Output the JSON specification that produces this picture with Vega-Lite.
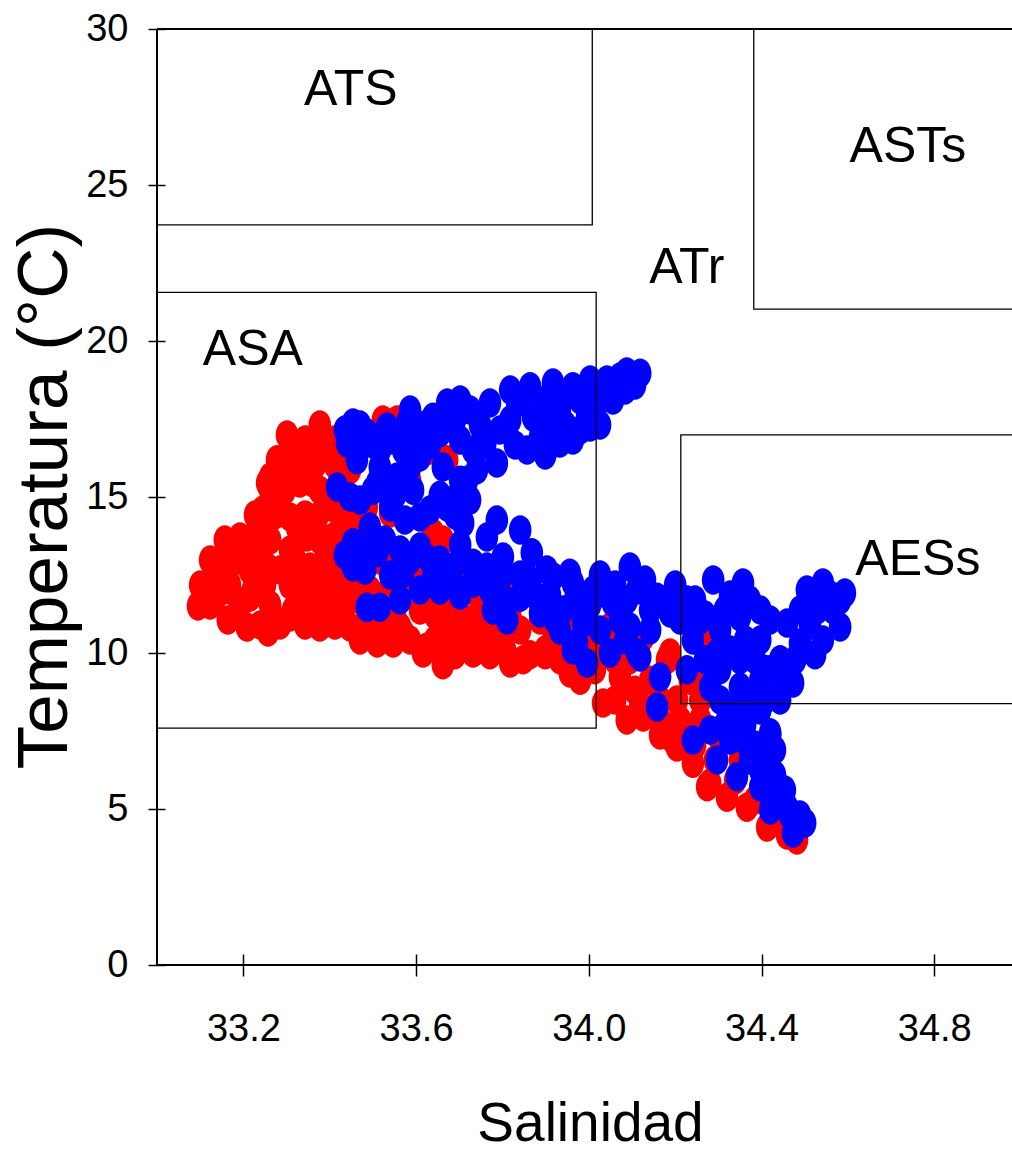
{
  "$schema": "https://vega.github.io/schema/vega-lite/v6.json",
  "autosize": {"type": "none"},
  "padding": {"left": 157, "top": 29, "right": 0, "bottom": 188},
  "width": 855,
  "height": 936,
  "background": "white",
  "config": {"view": {"stroke": null}},
  "datasets": {
    "puntos": [
      {"sal":33.095,"temp":11.51,"grupo":"R"},{"sal":33.139,"temp":11.86,"grupo":"R"},{"sal":33.162,"temp":13.04,"grupo":"R"},{"sal":33.192,"temp":13.72,"grupo":"R"},{"sal":33.164,"temp":11.06,"grupo":"R"},{"sal":33.208,"temp":10.83,"grupo":"R"},{"sal":33.257,"temp":10.67,"grupo":"R"},{"sal":33.215,"temp":11.79,"grupo":"R"},{"sal":33.255,"temp":12.76,"grupo":"R"},{"sal":33.245,"temp":14.58,"grupo":"R"},
      {"sal":33.262,"temp":15.64,"grupo":"R"},{"sal":33.301,"temp":16.99,"grupo":"R"},{"sal":33.377,"temp":17.31,"grupo":"R"},{"sal":33.338,"temp":16.41,"grupo":"R"},{"sal":33.331,"temp":15.45,"grupo":"R"},{"sal":33.278,"temp":16.19,"grupo":"R"},{"sal":33.324,"temp":14.04,"grupo":"R"},{"sal":33.371,"temp":14.36,"grupo":"R"},{"sal":33.308,"temp":13.30,"grupo":"R"},{"sal":33.354,"temp":12.76,"grupo":"R"},
      {"sal":33.315,"temp":11.38,"grupo":"R"},{"sal":33.384,"temp":11.60,"grupo":"R"},{"sal":33.377,"temp":10.83,"grupo":"R"},{"sal":33.417,"temp":12.44,"grupo":"R"},{"sal":33.417,"temp":14.90,"grupo":"R"},{"sal":33.401,"temp":16.51,"grupo":"R"},{"sal":33.447,"temp":10.83,"grupo":"R"},{"sal":33.486,"temp":11.06,"grupo":"R"},{"sal":33.523,"temp":10.64,"grupo":"R"},{"sal":33.570,"temp":10.64,"grupo":"R"},
      {"sal":33.625,"temp":10.19,"grupo":"R"},{"sal":33.662,"temp":9.87,"grupo":"R"},{"sal":33.523,"temp":17.47,"grupo":"R"},{"sal":33.556,"temp":17.47,"grupo":"R"},{"sal":33.639,"temp":13.85,"grupo":"R"},{"sal":33.540,"temp":14.49,"grupo":"R"},{"sal":33.255,"temp":15.45,"grupo":"R"},{"sal":33.139,"temp":12.44,"grupo":"R"},{"sal":33.232,"temp":13.30,"grupo":"R"},{"sal":33.308,"temp":14.36,"grupo":"R"},
      {"sal":33.347,"temp":13.72,"grupo":"R"},{"sal":33.361,"temp":15.45,"grupo":"R"},{"sal":33.377,"temp":16.51,"grupo":"R"},{"sal":33.394,"temp":14.68,"grupo":"R"},{"sal":33.285,"temp":12.66,"grupo":"R"},{"sal":33.222,"temp":12.02,"grupo":"R"},{"sal":33.377,"temp":12.24,"grupo":"R"},{"sal":33.408,"temp":13.72,"grupo":"R"},{"sal":33.486,"temp":14.68,"grupo":"R"},{"sal":33.662,"temp":13.62,"grupo":"R"},
      {"sal":33.470,"temp":12.44,"grupo":"R"},{"sal":33.672,"temp":16.19,"grupo":"R"},{"sal":33.593,"temp":12.44,"grupo":"R"},{"sal":33.533,"temp":11.92,"grupo":"R"},{"sal":33.417,"temp":11.79,"grupo":"R"},{"sal":33.308,"temp":11.15,"grupo":"R"},{"sal":33.354,"temp":11.06,"grupo":"R"},{"sal":33.510,"temp":10.32,"grupo":"R"},{"sal":33.547,"temp":10.32,"grupo":"R"},{"sal":33.616,"temp":10.00,"grupo":"R"},
      {"sal":33.662,"temp":9.62,"grupo":"R"},{"sal":33.732,"temp":10.00,"grupo":"R"},{"sal":33.818,"temp":9.68,"grupo":"R"},{"sal":33.563,"temp":10.83,"grupo":"R"},{"sal":33.672,"temp":10.64,"grupo":"R"},{"sal":33.748,"temp":10.64,"grupo":"R"},{"sal":33.848,"temp":9.78,"grupo":"R"},{"sal":33.956,"temp":9.36,"grupo":"R"},{"sal":34.033,"temp":8.40,"grupo":"R"},{"sal":34.088,"temp":7.85,"grupo":"R"},
      {"sal":34.135,"temp":8.17,"grupo":"R"},{"sal":34.072,"temp":9.23,"grupo":"R"},{"sal":34.195,"temp":7.21,"grupo":"R"},{"sal":34.241,"temp":6.47,"grupo":"R"},{"sal":34.274,"temp":5.71,"grupo":"R"},{"sal":34.320,"temp":5.38,"grupo":"R"},{"sal":34.366,"temp":5.06,"grupo":"R"},{"sal":34.413,"temp":4.42,"grupo":"R"},{"sal":34.459,"temp":4.17,"grupo":"R"},{"sal":34.482,"temp":4.01,"grupo":"R"},
      {"sal":34.204,"temp":8.49,"grupo":"R"},{"sal":34.241,"temp":7.44,"grupo":"R"},{"sal":34.181,"temp":9.78,"grupo":"R"},{"sal":34.274,"temp":10.51,"grupo":"R"},{"sal":33.996,"temp":11.06,"grupo":"R"},{"sal":33.917,"temp":10.42,"grupo":"R"},{"sal":34.126,"temp":7.95,"grupo":"R"},{"sal":34.204,"temp":6.99,"grupo":"R"},{"sal":34.281,"temp":5.83,"grupo":"R"},{"sal":33.950,"temp":10.83,"grupo":"R"},
      {"sal":34.049,"temp":10.83,"grupo":"R"},{"sal":34.126,"temp":10.51,"grupo":"R"},{"sal":34.188,"temp":10.00,"grupo":"R"},{"sal":34.258,"temp":10.83,"grupo":"R"},{"sal":33.987,"temp":11.60,"grupo":"R"},{"sal":33.447,"temp":15.87,"grupo":"R"},{"sal":33.470,"temp":13.62,"grupo":"R"},{"sal":33.516,"temp":12.98,"grupo":"R"},{"sal":33.563,"temp":12.02,"grupo":"R"},{"sal":33.609,"temp":11.38,"grupo":"R"},
      {"sal":33.679,"temp":11.38,"grupo":"R"},{"sal":33.725,"temp":11.06,"grupo":"R"},{"sal":33.794,"temp":10.42,"grupo":"R"},{"sal":33.841,"temp":10.74,"grupo":"R"},{"sal":33.887,"temp":11.06,"grupo":"R"},{"sal":33.702,"temp":12.34,"grupo":"R"},{"sal":33.748,"temp":11.70,"grupo":"R"},{"sal":33.609,"temp":12.98,"grupo":"R"},{"sal":33.470,"temp":11.70,"grupo":"R"},{"sal":33.632,"temp":16.51,"grupo":"R"},
      {"sal":33.586,"temp":15.54,"grupo":"R"},{"sal":33.215,"temp":12.66,"grupo":"R"},{"sal":33.285,"temp":14.90,"grupo":"R"},{"sal":33.239,"temp":13.94,"grupo":"R"},{"sal":34.026,"temp":10.10,"grupo":"R"},{"sal":34.095,"temp":9.78,"grupo":"R"},{"sal":34.142,"temp":9.13,"grupo":"R"},{"sal":34.165,"temp":8.49,"grupo":"R"},{"sal":34.258,"temp":8.49,"grupo":"R"},{"sal":34.304,"temp":7.21,"grupo":"R"},
      {"sal":34.350,"temp":6.57,"grupo":"R"},{"sal":34.397,"temp":5.61,"grupo":"R"},{"sal":34.443,"temp":4.97,"grupo":"R"},{"sal":34.234,"temp":9.13,"grupo":"R"},{"sal":33.933,"temp":9.78,"grupo":"R"},{"sal":33.169,"temp":12.02,"grupo":"R"},{"sal":33.447,"temp":11.70,"grupo":"R"},{"sal":33.806,"temp":10.10,"grupo":"R"},
      {"sal":33.308,"temp":16.83,"grupo":"R"},{"sal":33.343,"temp":16.83,"grupo":"R"},{"sal":33.412,"temp":16.83,"grupo":"R"},{"sal":33.296,"temp":16.03,"grupo":"R"},{"sal":33.331,"temp":16.03,"grupo":"R"},{"sal":33.366,"temp":16.03,"grupo":"R"},{"sal":33.412,"temp":16.03,"grupo":"R"},{"sal":33.262,"temp":15.22,"grupo":"R"},{"sal":33.296,"temp":15.22,"grupo":"R"},{"sal":33.377,"temp":15.22,"grupo":"R"},
      {"sal":33.424,"temp":15.22,"grupo":"R"},{"sal":33.227,"temp":14.42,"grupo":"R"},{"sal":33.273,"temp":14.42,"grupo":"R"},{"sal":33.343,"temp":14.42,"grupo":"R"},{"sal":33.424,"temp":14.42,"grupo":"R"},{"sal":33.459,"temp":14.42,"grupo":"R"},{"sal":33.157,"temp":13.62,"grupo":"R"},{"sal":33.215,"temp":13.62,"grupo":"R"},{"sal":33.262,"temp":13.62,"grupo":"R"},{"sal":33.377,"temp":13.62,"grupo":"R"},
      {"sal":33.435,"temp":13.62,"grupo":"R"},{"sal":33.123,"temp":12.98,"grupo":"R"},{"sal":33.192,"temp":12.98,"grupo":"R"},{"sal":33.320,"temp":12.98,"grupo":"R"},{"sal":33.389,"temp":12.98,"grupo":"R"},{"sal":33.435,"temp":12.98,"grupo":"R"},{"sal":33.100,"temp":12.18,"grupo":"R"},{"sal":33.169,"temp":12.18,"grupo":"R"},{"sal":33.250,"temp":12.18,"grupo":"R"},{"sal":33.308,"temp":12.18,"grupo":"R"},
      {"sal":33.343,"temp":12.18,"grupo":"R"},{"sal":33.424,"temp":12.18,"grupo":"R"},{"sal":33.123,"temp":11.54,"grupo":"R"},{"sal":33.192,"temp":11.54,"grupo":"R"},{"sal":33.262,"temp":11.54,"grupo":"R"},{"sal":33.343,"temp":11.54,"grupo":"R"},{"sal":33.424,"temp":11.54,"grupo":"R"},{"sal":33.239,"temp":10.90,"grupo":"R"},{"sal":33.285,"temp":10.90,"grupo":"R"},{"sal":33.343,"temp":10.90,"grupo":"R"},
      {"sal":33.412,"temp":10.90,"grupo":"R"},{"sal":33.482,"temp":10.90,"grupo":"R"},{"sal":33.540,"temp":12.98,"grupo":"R"},{"sal":33.586,"temp":12.98,"grupo":"R"},{"sal":33.632,"temp":12.98,"grupo":"R"},{"sal":33.493,"temp":12.02,"grupo":"R"},{"sal":33.632,"temp":12.02,"grupo":"R"},{"sal":33.667,"temp":12.02,"grupo":"R"},{"sal":33.794,"temp":12.02,"grupo":"R"},{"sal":33.841,"temp":12.02,"grupo":"R"},
      {"sal":33.516,"temp":11.22,"grupo":"R"},{"sal":33.551,"temp":11.22,"grupo":"R"},{"sal":33.644,"temp":11.22,"grupo":"R"},{"sal":33.690,"temp":11.22,"grupo":"R"},{"sal":33.771,"temp":11.22,"grupo":"R"},{"sal":33.818,"temp":11.22,"grupo":"R"},{"sal":33.470,"temp":10.42,"grupo":"R"},{"sal":33.586,"temp":10.42,"grupo":"R"},{"sal":33.644,"temp":10.42,"grupo":"R"},{"sal":33.702,"temp":10.42,"grupo":"R"},
      {"sal":33.771,"temp":10.42,"grupo":"R"},{"sal":33.690,"temp":9.94,"grupo":"R"},{"sal":33.771,"temp":9.94,"grupo":"R"},{"sal":33.864,"temp":9.94,"grupo":"R"},{"sal":33.899,"temp":9.94,"grupo":"R"},{"sal":33.899,"temp":10.10,"grupo":"R"},{"sal":33.945,"temp":10.26,"grupo":"R"},{"sal":34.003,"temp":10.26,"grupo":"R"},{"sal":33.980,"temp":9.13,"grupo":"R"},{"sal":34.014,"temp":9.46,"grupo":"R"},
      {"sal":34.061,"temp":9.78,"grupo":"R"},{"sal":34.061,"temp":8.49,"grupo":"R"},{"sal":34.107,"temp":8.81,"grupo":"R"},{"sal":34.119,"temp":8.33,"grupo":"R"},{"sal":34.165,"temp":7.85,"grupo":"R"},{"sal":34.165,"temp":7.37,"grupo":"R"},{"sal":34.211,"temp":7.85,"grupo":"R"},{"sal":34.258,"temp":7.85,"grupo":"R"},{"sal":34.269,"temp":9.13,"grupo":"R"},{"sal":34.292,"temp":6.57,"grupo":"R"},
      {"sal":34.339,"temp":5.93,"grupo":"R"},{"sal":34.385,"temp":5.29,"grupo":"R"},{"sal":34.431,"temp":4.65,"grupo":"R"},{"sal":34.246,"temp":7.05,"grupo":"R"},
      {"sal":33.454,"temp":17.37,"grupo":"B"},{"sal":33.440,"temp":16.73,"grupo":"B"},{"sal":33.477,"temp":16.92,"grupo":"B"},{"sal":33.533,"temp":17.24,"grupo":"B"},{"sal":33.579,"temp":17.37,"grupo":"B"},{"sal":33.516,"temp":16.51,"grupo":"B"},{"sal":33.570,"temp":16.51,"grupo":"B"},{"sal":33.609,"temp":16.28,"grupo":"B"},{"sal":33.639,"temp":17.56,"grupo":"B"},{"sal":33.672,"temp":18.01,"grupo":"B"},
      {"sal":33.725,"temp":17.79,"grupo":"B"},{"sal":33.771,"temp":18.01,"grupo":"B"},{"sal":33.794,"temp":17.15,"grupo":"B"},{"sal":33.732,"temp":16.51,"grupo":"B"},{"sal":33.787,"temp":16.09,"grupo":"B"},{"sal":33.662,"temp":15.96,"grupo":"B"},{"sal":33.848,"temp":18.11,"grupo":"B"},{"sal":33.864,"temp":18.53,"grupo":"B"},{"sal":33.917,"temp":18.65,"grupo":"B"},{"sal":33.963,"temp":18.53,"grupo":"B"},
      {"sal":33.857,"temp":16.51,"grupo":"B"},{"sal":33.917,"temp":16.92,"grupo":"B"},{"sal":33.963,"temp":16.83,"grupo":"B"},{"sal":33.996,"temp":17.56,"grupo":"B"},{"sal":34.019,"temp":18.53,"grupo":"B"},{"sal":34.056,"temp":18.11,"grupo":"B"},{"sal":34.072,"temp":18.85,"grupo":"B"},{"sal":34.119,"temp":18.97,"grupo":"B"},{"sal":33.871,"temp":17.56,"grupo":"B"},{"sal":33.933,"temp":17.79,"grupo":"B"},
      {"sal":34.003,"temp":18.75,"grupo":"B"},{"sal":34.042,"temp":18.75,"grupo":"B"},{"sal":34.088,"temp":19.01,"grupo":"B"},{"sal":34.003,"temp":17.24,"grupo":"B"},{"sal":33.933,"temp":16.73,"grupo":"B"},{"sal":33.887,"temp":16.92,"grupo":"B"},{"sal":33.834,"temp":18.01,"grupo":"B"},{"sal":33.609,"temp":16.73,"grupo":"B"},{"sal":33.493,"temp":16.73,"grupo":"B"},{"sal":33.516,"temp":15.96,"grupo":"B"},
      {"sal":33.556,"temp":15.64,"grupo":"B"},{"sal":33.463,"temp":16.19,"grupo":"B"},{"sal":33.486,"temp":17.05,"grupo":"B"},{"sal":33.510,"temp":15.45,"grupo":"B"},{"sal":33.586,"temp":15.96,"grupo":"B"},{"sal":33.655,"temp":17.05,"grupo":"B"},{"sal":33.417,"temp":15.32,"grupo":"B"},{"sal":33.447,"temp":15.00,"grupo":"B"},{"sal":33.500,"temp":15.22,"grupo":"B"},{"sal":33.540,"temp":14.68,"grupo":"B"},
      {"sal":33.593,"temp":15.22,"grupo":"B"},{"sal":33.609,"temp":14.36,"grupo":"B"},{"sal":33.672,"temp":14.68,"grupo":"B"},{"sal":33.718,"temp":15.54,"grupo":"B"},{"sal":33.741,"temp":15.87,"grupo":"B"},{"sal":33.686,"temp":14.90,"grupo":"B"},{"sal":33.709,"temp":14.17,"grupo":"B"},{"sal":33.787,"temp":14.26,"grupo":"B"},{"sal":33.764,"temp":13.72,"grupo":"B"},{"sal":33.841,"temp":13.94,"grupo":"B"},
      {"sal":33.868,"temp":13.21,"grupo":"B"},{"sal":33.454,"temp":13.53,"grupo":"B"},{"sal":33.454,"temp":12.76,"grupo":"B"},{"sal":33.493,"temp":14.04,"grupo":"B"},{"sal":33.510,"temp":13.21,"grupo":"B"},{"sal":33.563,"temp":13.30,"grupo":"B"},{"sal":33.609,"temp":13.40,"grupo":"B"},{"sal":33.570,"temp":12.56,"grupo":"B"},{"sal":33.639,"temp":12.44,"grupo":"B"},{"sal":33.486,"temp":11.47,"grupo":"B"},
      {"sal":33.516,"temp":11.47,"grupo":"B"},{"sal":33.563,"temp":11.70,"grupo":"B"},{"sal":33.609,"temp":12.02,"grupo":"B"},{"sal":33.686,"temp":12.24,"grupo":"B"},{"sal":33.732,"temp":12.88,"grupo":"B"},{"sal":33.801,"temp":13.08,"grupo":"B"},{"sal":33.771,"temp":12.02,"grupo":"B"},{"sal":33.764,"temp":12.76,"grupo":"B"},{"sal":33.732,"temp":12.24,"grupo":"B"},{"sal":33.778,"temp":11.38,"grupo":"B"},
      {"sal":33.811,"temp":11.06,"grupo":"B"},{"sal":33.841,"temp":11.79,"grupo":"B"},{"sal":33.887,"temp":11.28,"grupo":"B"},{"sal":33.917,"temp":12.44,"grupo":"B"},{"sal":33.963,"temp":12.24,"grupo":"B"},{"sal":33.940,"temp":11.38,"grupo":"B"},{"sal":33.987,"temp":10.96,"grupo":"B"},{"sal":34.010,"temp":12.02,"grupo":"B"},{"sal":34.056,"temp":11.60,"grupo":"B"},{"sal":34.095,"temp":12.76,"grupo":"B"},
      {"sal":34.112,"temp":12.02,"grupo":"B"},{"sal":33.973,"temp":10.32,"grupo":"B"},{"sal":34.049,"temp":10.00,"grupo":"B"},{"sal":34.112,"temp":10.00,"grupo":"B"},{"sal":33.903,"temp":12.66,"grupo":"B"},{"sal":33.956,"temp":12.56,"grupo":"B"},{"sal":34.158,"temp":11.79,"grupo":"B"},{"sal":34.227,"temp":11.70,"grupo":"B"},{"sal":34.288,"temp":12.34,"grupo":"B"},{"sal":34.357,"temp":12.24,"grupo":"B"},
      {"sal":34.505,"temp":12.02,"grupo":"B"},{"sal":34.542,"temp":12.24,"grupo":"B"},{"sal":34.593,"temp":11.92,"grupo":"B"},{"sal":34.033,"temp":11.92,"grupo":"B"},{"sal":34.088,"temp":11.70,"grupo":"B"},{"sal":33.963,"temp":10.10,"grupo":"B"},{"sal":33.996,"temp":9.68,"grupo":"B"},{"sal":34.119,"temp":9.87,"grupo":"B"},{"sal":34.165,"temp":9.23,"grupo":"B"},{"sal":34.158,"temp":8.27,"grupo":"B"},
      {"sal":34.095,"temp":10.83,"grupo":"B"},{"sal":34.188,"temp":11.28,"grupo":"B"},{"sal":34.241,"temp":10.42,"grupo":"B"},{"sal":34.227,"temp":9.46,"grupo":"B"},{"sal":34.281,"temp":8.91,"grupo":"B"},{"sal":34.297,"temp":10.00,"grupo":"B"},{"sal":34.350,"temp":11.15,"grupo":"B"},{"sal":34.350,"temp":9.78,"grupo":"B"},{"sal":34.397,"temp":10.42,"grupo":"B"},{"sal":34.459,"temp":10.96,"grupo":"B"},
      {"sal":34.489,"temp":10.32,"grupo":"B"},{"sal":34.473,"temp":9.04,"grupo":"B"},{"sal":34.542,"temp":10.42,"grupo":"B"},{"sal":34.582,"temp":10.83,"grupo":"B"},{"sal":34.582,"temp":11.70,"grupo":"B"},{"sal":34.413,"temp":9.46,"grupo":"B"},{"sal":34.350,"temp":8.91,"grupo":"B"},{"sal":34.241,"temp":7.21,"grupo":"B"},{"sal":34.281,"temp":7.53,"grupo":"B"},{"sal":34.297,"temp":6.57,"grupo":"B"},
      {"sal":34.334,"temp":8.17,"grupo":"B"},{"sal":34.397,"temp":8.17,"grupo":"B"},{"sal":34.420,"temp":7.44,"grupo":"B"},{"sal":34.366,"temp":7.12,"grupo":"B"},{"sal":34.413,"temp":6.57,"grupo":"B"},{"sal":34.343,"temp":6.03,"grupo":"B"},{"sal":34.397,"temp":5.71,"grupo":"B"},{"sal":34.436,"temp":5.61,"grupo":"B"},{"sal":34.459,"temp":5.06,"grupo":"B"},{"sal":34.501,"temp":4.55,"grupo":"B"},
      {"sal":34.473,"temp":4.23,"grupo":"B"},{"sal":34.373,"temp":8.49,"grupo":"B"},{"sal":34.304,"temp":8.49,"grupo":"B"},{"sal":34.443,"temp":9.78,"grupo":"B"},{"sal":34.397,"temp":9.13,"grupo":"B"},{"sal":34.258,"temp":11.06,"grupo":"B"},{"sal":34.304,"temp":10.74,"grupo":"B"},{"sal":34.142,"temp":10.74,"grupo":"B"},{"sal":34.211,"temp":11.06,"grupo":"B"},{"sal":34.529,"temp":11.38,"grupo":"B"},
      {"sal":34.566,"temp":11.38,"grupo":"B"},{"sal":34.373,"temp":6.57,"grupo":"B"},{"sal":34.327,"temp":7.21,"grupo":"B"},{"sal":34.420,"temp":4.97,"grupo":"B"},{"sal":33.655,"temp":12.98,"grupo":"B"},{"sal":33.702,"temp":13.46,"grupo":"B"},{"sal":33.794,"temp":12.34,"grupo":"B"},{"sal":33.864,"temp":12.34,"grupo":"B"},
      {"sal":33.435,"temp":17.15,"grupo":"B"},{"sal":33.470,"temp":17.31,"grupo":"B"},{"sal":33.505,"temp":16.67,"grupo":"B"},{"sal":33.540,"temp":16.83,"grupo":"B"},{"sal":33.563,"temp":16.99,"grupo":"B"},{"sal":33.598,"temp":16.99,"grupo":"B"},{"sal":33.621,"temp":17.31,"grupo":"B"},{"sal":33.632,"temp":16.67,"grupo":"B"},{"sal":33.690,"temp":17.47,"grupo":"B"},{"sal":33.702,"temp":16.83,"grupo":"B"},
      {"sal":33.748,"temp":17.31,"grupo":"B"},{"sal":33.760,"temp":16.67,"grupo":"B"},{"sal":33.818,"temp":17.47,"grupo":"B"},{"sal":33.829,"temp":16.67,"grupo":"B"},{"sal":33.899,"temp":18.11,"grupo":"B"},{"sal":33.899,"temp":17.31,"grupo":"B"},{"sal":33.899,"temp":16.35,"grupo":"B"},{"sal":33.945,"temp":18.27,"grupo":"B"},{"sal":33.945,"temp":17.31,"grupo":"B"},{"sal":33.980,"temp":18.11,"grupo":"B"},
      {"sal":33.980,"temp":17.15,"grupo":"B"},{"sal":34.026,"temp":18.11,"grupo":"B"},{"sal":34.026,"temp":17.31,"grupo":"B"},{"sal":34.084,"temp":18.43,"grupo":"B"},{"sal":34.107,"temp":18.59,"grupo":"B"},{"sal":33.586,"temp":17.79,"grupo":"B"},{"sal":33.702,"temp":18.11,"grupo":"B"},{"sal":33.818,"temp":18.43,"grupo":"B"},
      {"sal":33.470,"temp":14.90,"grupo":"B"},{"sal":33.551,"temp":15.06,"grupo":"B"},{"sal":33.574,"temp":14.26,"grupo":"B"},{"sal":33.632,"temp":14.58,"grupo":"B"},{"sal":33.655,"temp":15.06,"grupo":"B"},{"sal":33.690,"temp":14.42,"grupo":"B"},{"sal":33.725,"temp":14.90,"grupo":"B"},{"sal":33.702,"temp":15.54,"grupo":"B"},
      {"sal":33.435,"temp":13.14,"grupo":"B"},{"sal":33.482,"temp":13.46,"grupo":"B"},{"sal":33.528,"temp":13.62,"grupo":"B"},{"sal":33.482,"temp":12.66,"grupo":"B"},{"sal":33.540,"temp":12.50,"grupo":"B"},{"sal":33.586,"temp":12.98,"grupo":"B"},{"sal":33.632,"temp":12.98,"grupo":"B"},{"sal":33.667,"temp":12.66,"grupo":"B"},{"sal":33.702,"temp":12.98,"grupo":"B"},{"sal":33.655,"temp":12.02,"grupo":"B"},
      {"sal":33.702,"temp":11.86,"grupo":"B"},{"sal":33.748,"temp":12.50,"grupo":"B"},{"sal":33.794,"temp":12.82,"grupo":"B"},{"sal":33.806,"temp":11.70,"grupo":"B"},{"sal":33.841,"temp":12.50,"grupo":"B"},{"sal":33.875,"temp":11.86,"grupo":"B"},{"sal":33.910,"temp":11.86,"grupo":"B"},{"sal":33.922,"temp":11.06,"grupo":"B"},{"sal":33.968,"temp":11.70,"grupo":"B"},{"sal":34.003,"temp":11.54,"grupo":"B"},
      {"sal":34.026,"temp":12.50,"grupo":"B"},{"sal":34.061,"temp":12.18,"grupo":"B"},{"sal":34.072,"temp":11.06,"grupo":"B"},{"sal":34.026,"temp":10.74,"grupo":"B"},{"sal":33.933,"temp":10.74,"grupo":"B"},{"sal":34.084,"temp":10.42,"grupo":"B"},{"sal":34.142,"temp":11.38,"grupo":"B"},{"sal":34.176,"temp":11.70,"grupo":"B"},{"sal":34.130,"temp":12.34,"grupo":"B"},{"sal":34.200,"temp":12.18,"grupo":"B"},
      {"sal":34.246,"temp":11.70,"grupo":"B"},{"sal":34.269,"temp":11.22,"grupo":"B"},{"sal":34.315,"temp":11.38,"grupo":"B"},{"sal":34.327,"temp":11.86,"grupo":"B"},{"sal":34.373,"temp":11.70,"grupo":"B"},{"sal":34.397,"temp":11.38,"grupo":"B"},{"sal":34.420,"temp":11.06,"grupo":"B"},{"sal":34.362,"temp":10.42,"grupo":"B"},{"sal":34.327,"temp":10.10,"grupo":"B"},{"sal":34.269,"temp":9.78,"grupo":"B"},
      {"sal":34.304,"temp":9.46,"grupo":"B"},{"sal":34.385,"temp":9.78,"grupo":"B"},{"sal":34.408,"temp":8.49,"grupo":"B"},{"sal":34.443,"temp":8.49,"grupo":"B"},{"sal":34.443,"temp":9.13,"grupo":"B"},{"sal":34.478,"temp":9.78,"grupo":"B"},{"sal":34.512,"temp":10.90,"grupo":"B"},{"sal":34.559,"temp":11.86,"grupo":"B"},{"sal":34.489,"temp":11.38,"grupo":"B"},{"sal":34.524,"temp":9.94,"grupo":"B"},
      {"sal":34.315,"temp":7.69,"grupo":"B"},{"sal":34.362,"temp":7.69,"grupo":"B"},{"sal":34.385,"temp":7.05,"grupo":"B"},{"sal":34.397,"temp":6.25,"grupo":"B"},{"sal":34.431,"temp":6.09,"grupo":"B"},{"sal":34.454,"temp":5.61,"grupo":"B"},{"sal":34.420,"temp":5.45,"grupo":"B"},{"sal":34.466,"temp":4.81,"grupo":"B"},{"sal":34.489,"temp":4.81,"grupo":"B"},{"sal":34.443,"temp":5.13,"grupo":"B"},
      {"sal":34.431,"temp":6.89,"grupo":"B"},{"sal":34.420,"temp":7.37,"grupo":"B"}
    ],
    "cajas": [
      {"nombre":"ATS","s1":33.0,"s2":34.008,"t1":23.72,"t2":30},
      {"nombre":"ASTs","s1":34.382,"s2":35.0,"t1":21.02,"t2":30},
      {"nombre":"ASA","s1":33.0,"s2":34.017,"t1":7.59,"t2":21.56},
      {"nombre":"AESs","s1":34.213,"s2":35.0,"t1":8.38,"t2":16.99}
    ],
    "marco": [
      {"s1":33.0,"s2":34.98,"t1":0,"t2":0},
      {"s1":33.0,"s2":33.0,"t1":0,"t2":30},
      {"s1":33.0,"s2":34.98,"t1":30,"t2":30}
    ],
    "etiquetas": [
      {"texto":"ATS","sal":33.449,"temp":27.56},
      {"texto":"ASTs","sal":34.739,"temp":25.74},
      {"texto":"ATr","sal":34.227,"temp":21.86},
      {"texto":"ASA","sal":33.222,"temp":19.23},
      {"texto":"AESs","sal":34.762,"temp":12.5}
    ]
  },
  "layer": [
    {
      "data": {"name": "puntos"},
      "mark": {
        "type": "point",
        "shape": "M0,-1C0.4236,-1,0.767,-0.5523,0.767,0C0.767,0.5523,0.4236,1,0,1C-0.4236,1,-0.767,0.5523,-0.767,0C-0.767,-0.5523,-0.4236,-1,0,-1Z",
        "filled": true,
        "opacity": 1,
        "size": 870,
        "strokeWidth": 0,
        "clip": true
      },
      "encoding": {
        "x": {
          "field": "sal", "type": "quantitative",
          "scale": {"domain": [33.0, 34.98], "nice": false, "zero": false},
          "axis": {
            "values": [33.2, 33.6, 34.0, 34.4, 34.8],
            "format": ".1f",
            "grid": false,
            "domain": false,
            "offset": -11,
            "tickSize": 22,
            "tickWidth": 1.5,
            "tickColor": "black",
            "labelFont": "Liberation Sans",
            "labelFontSize": 38,
            "labelColor": "black",
            "labelPadding": 34,
            "labelFlush": false,
            "title": "Salinidad",
            "titleFont": "Liberation Sans",
            "titleFontSize": 55,
            "titleFontWeight": "normal",
            "titleColor": "black",
            "titleBaseline": "alphabetic",
            "titleAlign": "center",
            "titleX": 433,
            "titleY": 186
          }
        },
        "y": {
          "field": "temp", "type": "quantitative",
          "scale": {"domain": [0, 30], "nice": false, "zero": false},
          "axis": {
            "values": [0, 5, 10, 15, 20, 25, 30],
            "format": "d",
            "grid": false,
            "domain": false,
            "offset": -8,
            "tickSize": 17,
            "tickWidth": 1.5,
            "tickColor": "black",
            "labelFont": "Liberation Sans",
            "labelFontSize": 38,
            "labelColor": "black",
            "labelPadding": 20,
            "labelFlush": false,
            "title": "Temperatura (°C)",
            "titleFont": "Liberation Sans",
            "titleFontSize": 71,
            "titleFontWeight": "normal",
            "titleColor": "black",
            "titleBaseline": "alphabetic",
            "titleAlign": "center",
            "titleAngle": 270,
            "titleX": -99,
            "titleY": 467
          }
        },
        "color": {
          "field": "grupo", "type": "nominal",
          "scale": {"domain": ["R", "B"], "range": ["#ff0000", "#0000ff"]},
          "legend": null
        }
      }
    },
    {
      "data": {"name": "cajas"},
      "mark": {"type": "rect", "fill": null, "fillOpacity": 0, "stroke": "black", "strokeWidth": 1.3, "clip": true},
      "encoding": {
        "x": {"field": "s1", "type": "quantitative"},
        "x2": {"field": "s2"},
        "y": {"field": "t1", "type": "quantitative"},
        "y2": {"field": "t2"}
      }
    },
    {
      "data": {"name": "marco"},
      "mark": {"type": "rule", "stroke": "black", "strokeWidth": 2},
      "encoding": {
        "x": {"field": "s1", "type": "quantitative"},
        "x2": {"field": "s2"},
        "y": {"field": "t1", "type": "quantitative"},
        "y2": {"field": "t2"}
      }
    },
    {
      "data": {"name": "etiquetas"},
      "mark": {"type": "text", "font": "Liberation Sans", "fontSize": 50, "baseline": "alphabetic", "align": "center", "color": "black"},
      "encoding": {
        "x": {"field": "sal", "type": "quantitative"},
        "y": {"field": "temp", "type": "quantitative"},
        "text": {"field": "texto", "type": "nominal"}
      }
    }
  ]
}
